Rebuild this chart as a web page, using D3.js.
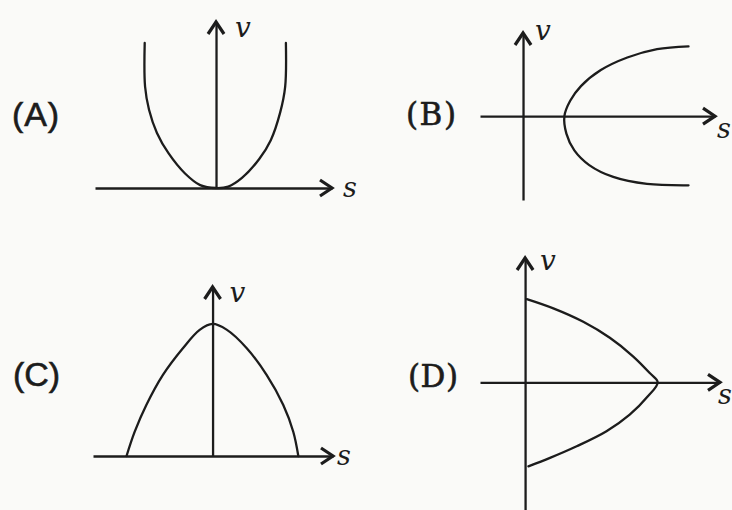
<!DOCTYPE html>
<html>
<head>
<meta charset="utf-8">
<script src="https://cdn.jsdelivr.net/npm/d3@7"></script>
<style>
  body { margin: 0; background: #fafaf8; }
  svg { display: block; }
</style>
</head>
<body>
<script>
// option labels and axis names
var options = ['(A)', '(B)', '(C)', '(D)'];
var axisNames = ['s', 'v'];

// axis extents, in the graph's own units: [s min, s max], [v min, v max]
var extentA = [[-1.68, 1.61], [0, 1.145]];
var extentB = [[-0.26, 1.16], [-1.2, 1.19]];
var extentC = [[-1.39, 1.40], [0, 1.28]];
var extentD = [[-0.34, 1.47], [-1.52, 1.48]];

// curves, [s, v]
var curveA = [[-0.99, 1.0], [-0.985, 0.70], [-0.93, 0.54], [-0.82, 0.38], [-0.66, 0.24],
  [-0.43, 0.10], [-0.22, 0.02], [0, 0], [0.17, 0.01], [0.36, 0.07], [0.60, 0.20],
  [0.76, 0.33], [0.89, 0.52], [0.96, 0.70], [0.97, 1.0]];
var curveB = [[1.0, 1.0], [0.81, 0.96], [0.63, 0.84], [0.47, 0.66], [0.35, 0.43],
  [0.285, 0.22], [0.25, 0], [0.262, -0.25], [0.31, -0.49], [0.40, -0.70],
  [0.545, -0.87], [0.749, -0.97], [1.0, -0.99]];
var curveC = [[-1.0, 0], [-0.905, 0.184], [-0.77, 0.386], [-0.577, 0.614], [-0.345, 0.816],
  [-0.15, 0.955], [0, 1.0], [0.163, 0.957], [0.395, 0.818], [0.628, 0.614],
  [0.822, 0.386], [0.938, 0.184], [0.997, 0]];
var curveD = [[0.013, 0.99], [0.213, 0.88], [0.439, 0.72], [0.639, 0.53], [0.814, 0.31],
  [0.940, 0.11], [1.0, 0], [0.926, -0.167], [0.789, -0.385], [0.614, -0.583],
  [0.389, -0.762], [0.188, -0.90], [0.025, -1.0]];

var W = 732, H = 510;
var ink = '#1c1c1c';

var svg = d3.select('body').append('svg')
  .attr('width', W)
  .attr('height', H);

svg.append('rect').attr('width', W).attr('height', H).attr('fill', '#fafaf8');

// one panel: label, two axes with open arrow heads, a curve
function panel(cfg) {
  var x = d3.scaleLinear().domain(cfg.extent[0]).range(cfg.xr);
  var y = d3.scaleLinear().domain(cfg.extent[1]).range(cfg.yr);
  var g = svg.append('g');

  g.append('g')
    .attr('transform', 'translate(0,' + y(0) + ')')
    .call(d3.axisBottom(x).tickValues([]).tickSizeOuter(0))
    .select('.domain')
    .attr('stroke', ink)
    .attr('stroke-width', 2.3);

  g.append('g')
    .attr('transform', 'translate(' + x(0) + ',0)')
    .call(d3.axisLeft(y).tickValues([]).tickSizeOuter(0))
    .select('.domain')
    .attr('stroke', ink)
    .attr('stroke-width', 2.3);

  // arrow heads
  var sx = x.range()[1], sy = y(0);
  g.append('path')
    .attr('d', 'M' + (sx - 12) + ',' + (sy - 8) + 'L' + sx + ',' + sy + 'L' + (sx - 12) + ',' + (sy + 8))
    .attr('fill', 'none').attr('stroke', ink).attr('stroke-width', 3.2);
  var vx = x(0), vy = y.range()[1];
  g.append('path')
    .attr('d', 'M' + (vx - 8) + ',' + (vy + 12) + 'L' + vx + ',' + vy + 'L' + (vx + 8) + ',' + (vy + 12))
    .attr('fill', 'none').attr('stroke', ink).attr('stroke-width', 3.2);

  var line = d3.line()
    .x(function (d) { return x(d[0]); })
    .y(function (d) { return y(d[1]); })
    .curve(d3.curveCatmullRom.alpha(0.5));

  g.append('path')
    .datum(cfg.curve)
    .attr('fill', 'none')
    .attr('stroke', ink)
    .attr('stroke-width', 2.3)
    .attr('stroke-linecap', 'round')
    .attr('d', line);

  g.append('text')
    .attr('x', sx + cfg.sLab[0])
    .attr('y', sy + cfg.sLab[1])
    .attr('font-family', 'DejaVu Serif, serif')
    .attr('font-style', 'italic')
    .attr('font-size', 27)
    .attr('fill', ink)
    .text(axisNames[0]);

  g.append('text')
    .attr('x', vx + cfg.vLab[0])
    .attr('y', vy + cfg.vLab[1])
    .attr('font-family', 'DejaVu Serif, serif')
    .attr('font-style', 'italic')
    .attr('font-size', 28)
    .attr('fill', ink)
    .text(axisNames[1]);

  g.append('text')
    .attr('x', cfg.label[0])
    .attr('y', cfg.label[1])
    .attr('font-family', cfg.serif ? 'DejaVu Serif, serif' : 'Liberation Sans, Arial, sans-serif')
    .attr('font-size', cfg.serif ? 31 : 34)
    .attr('textLength', cfg.serif ? 50 : 47)
    .attr('stroke', ink)
    .attr('stroke-width', 0.6)
    .attr('fill', ink)
    .text(cfg.name);
}

panel({ name: options[0], extent: extentA, curve: curveA, xr: [95, 332], yr: [188, 22],
  label: [12, 126], sLab: [11, 9], vLab: [19, 15], serif: false });
panel({ name: options[1], extent: extentB, curve: curveB, xr: [480, 715], yr: [200, 33],
  label: [406, 125], sLab: [2, 22], vLab: [12, 7], serif: true });
panel({ name: options[2], extent: extentC, curve: curveC, xr: [93, 333], yr: [456, 287],
  label: [13, 386], sLab: [4, 9], vLab: [17, 15], serif: false });
panel({ name: options[3], extent: extentD, curve: curveD, xr: [480, 720], yr: [510, 258],
  label: [408, 387], sLab: [-2, 22], vLab: [15, 12], serif: true });
</script>
</body>
</html>
